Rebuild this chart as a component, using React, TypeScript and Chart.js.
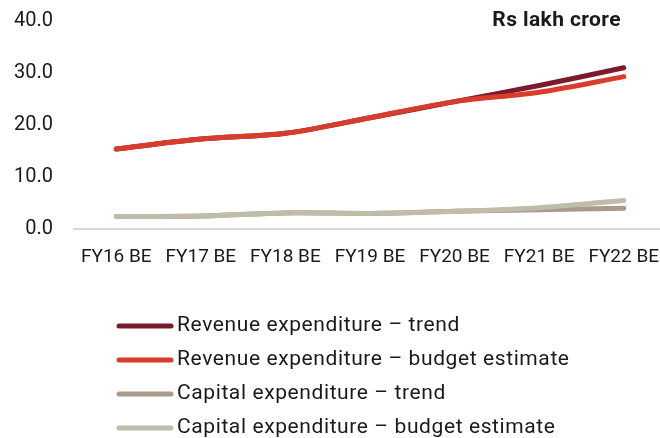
import React, { useEffect, useRef } from "react";
import { Chart, registerables } from "chart.js";

Chart.register(...registerables);

const categories = ["FY16 BE", "FY17 BE", "FY18 BE", "FY19 BE", "FY20 BE", "FY21 BE", "FY22 BE"];
const revenueTrend = [15.4, 17.3, 18.4, 21.4, 24.5, 27.6, 31.0];
const revenueBudget = [15.4, 17.3, 18.4, 21.4, 24.5, 26.3, 29.3];
const capitalTrend = [2.4, 2.5, 3.1, 3.0, 3.4, 3.7, 4.0];
const capitalBudget = [2.4, 2.5, 3.1, 3.0, 3.4, 4.1, 5.5];
const seriesNames = [
  "Revenue expenditure \u2013 trend",
  "Revenue expenditure \u2013 budget estimate",
  "Capital expenditure \u2013 trend",
  "Capital expenditure \u2013 budget estimate",
];
const seriesColors = ["#7a1a2b", "#d73d2a", "#a99b8c", "#bfbca9"];
const yTicks = [0, 10, 20, 30, 40];
const unitLabel = "Rs lakh crore";

const FONT = "Roboto, 'Liberation Sans', sans-serif";
const TEXT = "#1a1a1a";

export default function App() {
  const ref = useRef<HTMLCanvasElement | null>(null);

  useEffect(() => {
    if (!ref.current) return;
    const extras = {
      id: "extras",
      afterDraw(chart: any) {
        const ctx = chart.ctx;
        ctx.save();
        // unit label
        ctx.font = `bold 21px ${FONT}`;
        (ctx as any).letterSpacing = "0.4px";
        ctx.fillStyle = TEXT;
        ctx.textAlign = "right";
        ctx.textBaseline = "middle";
        ctx.fillText(unitLabel, 621, 21);
        // legend
        chart.data.datasets.forEach((ds: any, i: number) => {
          const y = 326 + 34 * i;
          ctx.beginPath();
          ctx.strokeStyle = ds.borderColor;
          ctx.lineWidth = 5;
          ctx.lineCap = "round";
          ctx.moveTo(119, y);
          ctx.lineTo(171, y);
          ctx.stroke();
          ctx.font = `21px ${FONT}`;
          (ctx as any).letterSpacing = "0.6px";
          ctx.fillStyle = TEXT;
          ctx.textAlign = "left";
          ctx.textBaseline = "middle";
          ctx.fillText(ds.label, 177, y);
        });
        ctx.restore();
      },
    };
    const values = [revenueTrend, revenueBudget, capitalTrend, capitalBudget];
    const chart = new Chart(ref.current, {
      type: "line",
      data: {
        labels: categories,
        datasets: values.map((v, i) => ({
          label: seriesNames[i],
          data: v,
          borderColor: seriesColors[i],
          backgroundColor: seriesColors[i],
          borderWidth: 5,
          borderCapStyle: "round",
          borderJoinStyle: "round",
          pointRadius: 0,
          tension: 0.3,
          order: i % 2 === 0 ? 1 : 0,
        })),
      },
      options: {
        responsive: false,
        animation: false,
        layout: { padding: { top: 21, right: 14, left: 0, bottom: 0 } },
        plugins: { legend: { display: false }, tooltip: { enabled: false }, title: { display: false } },
        scales: {
          x: {
            offset: true,
            grid: { display: false, drawTicks: false },
            border: { display: true, color: "#d9d9d9", width: 2 },
            ticks: { font: { family: FONT, size: 19 }, color: TEXT, padding: 17, maxRotation: 0 },
            afterFit: (s: any) => { s.height = 209; s.paddingLeft = 0; s.paddingRight = 0; },
          },
          y: {
            min: 0,
            max: 40,
            afterBuildTicks: (s: any) => { s.ticks = yTicks.map((v) => ({ value: v })); },
            grid: { display: false, drawTicks: false },
            border: { display: false },
            ticks: {
              font: { family: FONT, size: 20 },
              color: TEXT,
              padding: 21,
              callback: (v: any) => Number(v).toFixed(1),
            },
            afterFit: (s: any) => { s.width = 74; s.paddingTop = 0; s.paddingBottom = 0; },
          },
        },
      },
      plugins: [extras],
    } as any);
    return () => chart.destroy();
  }, []);

  return (
    <div style={{ position: "fixed", left: 0, top: 0, width: 660, height: 438, overflow: "hidden", background: "#fff" }}>
      <canvas ref={ref} width={680} height={438} style={{ display: "block" }} />
    </div>
  );
}
